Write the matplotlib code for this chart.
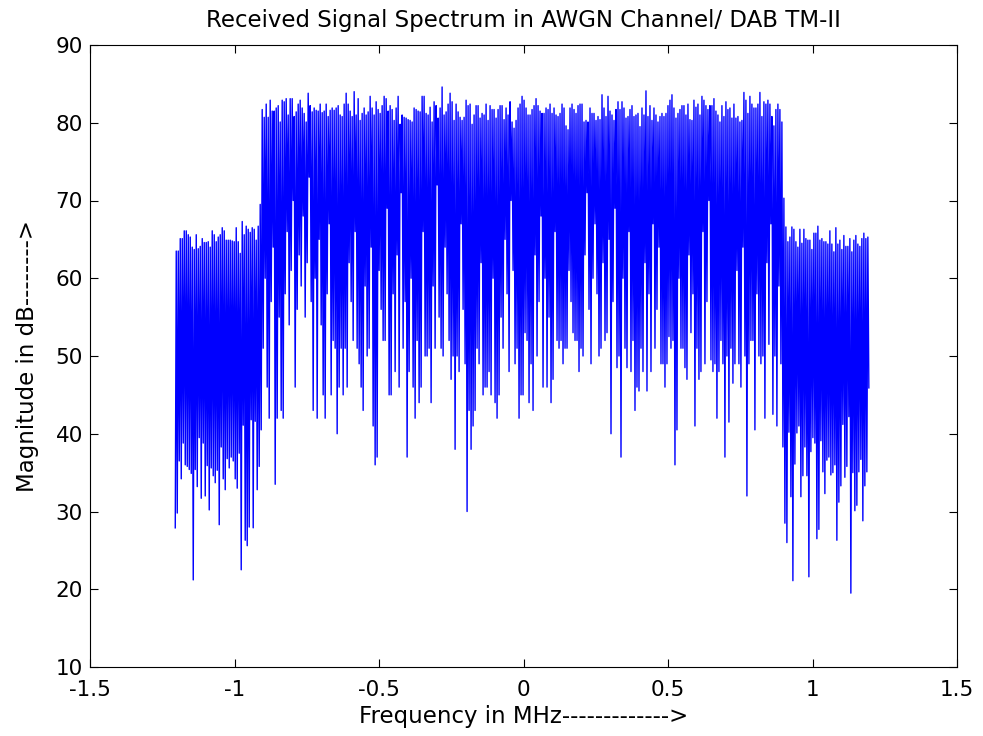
import numpy as np
import matplotlib
matplotlib.use("Agg")
import matplotlib.pyplot as plt
from matplotlib.ticker import FuncFormatter

# magnitudes in dB, peaks and troughs of each band
left_troughs = [27.9, 29.8, 36.5, 34.2, 38.8, 36.0, 35.8, 35.4, 34.9, 21.2,
                35.4, 33.2, 39.5, 31.7, 38.8, 32.0, 35.9, 30.2, 35.6, 34.6,
                33.7, 35.3, 28.3, 38.3, 34.2, 32.8, 36.8, 35.6, 37.0, 36.5,
                34.2, 33.0, 37.5, 22.5, 41.1, 26.3, 25.6, 28.0, 41.8, 27.9,
                41.6, 32.8, 35.8, 40.5]
left_peaks = [63.5, 63.5, 65.1, 65.1, 66.1, 66.1, 65.6, 65.3, 64.0, 63.7,
              65.6, 63.8, 64.1, 65.1, 64.6, 64.6, 64.7, 64.0, 66.1, 65.6,
              64.7, 65.3, 65.6, 66.5, 66.1, 64.9, 64.9, 64.9, 64.8, 64.7,
              66.5, 64.7, 63.2, 67.3, 65.6, 66.7, 66.3, 65.9, 66.5, 66.3,
              64.9, 66.7, 69.5]

mid_peaks = [81.7, 80.7, 82.4, 80.7, 82.9, 81.5, 81.5, 81.9, 82.2, 80.1,
             82.9, 82.7, 83.1, 81.0, 83.1, 83.1, 80.8, 81.4, 82.4, 82.9,
             81.9, 81.2, 80.1, 83.8, 82.2, 81.4, 81.9, 81.6, 81.5, 82.4,
             81.3, 81.5, 82.4, 80.8, 81.6, 81.9, 81.6, 81.9, 82.2, 81.0,
             80.8, 82.4, 83.8, 82.4, 81.5, 80.8, 84.0, 81.0, 83.1, 80.3,
             81.2, 81.9, 81.0, 81.4, 83.4, 81.9, 81.0, 82.7, 81.7, 81.2,
             82.2, 83.4, 83.1, 81.5, 82.2, 81.7, 80.3, 81.9, 83.4, 79.8,
             81.0, 80.7, 80.6, 80.4, 80.3, 80.1, 81.9, 81.7, 81.5, 81.4,
             83.4, 83.4, 81.2, 81.0, 82.0, 80.1, 82.7, 82.2, 80.6, 81.9,
             84.6, 81.0, 81.4, 82.4, 83.8, 82.7, 80.3, 82.4, 81.4, 80.7,
             80.3, 80.7, 82.9, 82.2, 82.4, 79.8, 81.0, 82.2, 82.2, 80.6,
             81.2, 81.0, 82.4, 80.3, 82.2, 81.7, 81.7, 80.6, 81.7, 82.2,
             82.2, 80.4, 81.9, 81.0, 82.7, 80.1, 79.3, 80.3, 81.9, 82.4,
             83.4, 82.9, 81.9, 81.0, 81.0, 81.7, 82.2, 83.1, 82.2, 81.5,
             81.2, 81.2, 81.9, 81.7, 82.4, 81.2, 81.9, 81.0, 80.8, 81.2,
             82.4, 81.9, 79.6, 79.1, 81.9, 82.4, 81.7, 81.2, 82.2, 82.4,
             82.4, 80.1, 80.3, 80.1, 81.9, 81.2, 81.2, 80.3, 80.8, 80.4,
             83.6, 81.9, 80.8, 83.4, 81.5, 81.0, 80.3, 81.7, 82.7, 81.7,
             82.7, 81.9, 80.6, 80.8, 81.7, 82.2, 80.8, 81.0, 81.2, 79.5,
             81.9, 81.0, 84.1, 80.8, 82.2, 80.3, 81.9, 81.0, 80.1, 80.8,
             81.2, 80.8, 81.2, 82.2, 82.9, 83.6, 81.9, 80.6, 81.2, 81.7,
             82.2, 82.2, 81.0, 82.4, 80.4, 80.3, 82.9, 82.0, 82.4, 81.0,
             83.4, 82.9, 82.2, 81.7, 82.2, 82.2, 83.1, 81.5, 81.0, 80.1,
             82.2, 80.8, 82.7, 81.7, 81.9, 80.6, 82.4, 80.6, 80.8, 80.1,
             80.3, 83.9, 82.9, 81.2, 83.4, 82.4, 81.9, 81.9, 82.4, 83.9,
             80.8, 82.7, 82.4, 82.9, 82.4, 80.8, 79.6, 81.7, 82.4, 81.7,
             80.1]
mid_troughs = [51, 60, 46, 42, 57, 64, 33.5, 42, 55, 43,
               42, 58, 66, 54, 61, 70, 46, 56, 63, 59,
               68, 55, 62, 73, 57, 43, 60, 42, 65, 54,
               45, 42, 58, 67, 45, 52, 51, 40, 46, 51,
               45, 51, 46, 62, 57, 52, 66, 51, 49, 46,
               43, 59, 50, 51, 64, 41, 36, 37, 61, 56,
               52, 52, 69, 45, 45, 58, 48, 63, 46, 71,
               51, 57, 37, 48, 60, 46, 42, 52, 44, 46,
               66, 50, 50, 51, 44, 59, 51, 72, 55, 51,
               50, 64, 58, 52, 47, 50, 38, 50, 48, 67,
               56, 49, 30, 43, 38, 41, 43, 51, 49, 62,
               45, 46, 46, 48, 45, 60, 44, 42, 45, 55,
               51, 65, 58, 48, 70, 61, 49, 51, 42, 45,
               45, 53, 52, 44, 49, 43, 63, 50, 57, 68,
               46, 60, 46, 55, 44, 47, 66, 52, 51, 52,
               49, 51, 51, 61, 57, 53, 52, 52, 48, 51,
               50, 63, 71, 56, 49, 60, 67, 58, 50, 51,
               62, 52, 53, 65, 40, 57, 69, 48.5, 50, 37,
               60, 51, 48.5, 66, 48, 52, 43, 46, 45.5, 51,
               48, 62, 45.5, 58, 48, 67, 51, 56, 64, 49,
               49, 46, 49, 52.5, 51, 52, 36, 40.5, 60, 51,
               51, 48.5, 47, 63, 53, 58, 41, 51, 47, 48,
               66, 49, 57, 70, 49.5, 48, 49, 42, 48, 52,
               49, 37, 50, 41.5, 51, 46.5, 49, 61, 49, 46,
               64, 50, 32, 49, 52, 52, 40.5, 58, 50, 49,
               50, 42, 62, 51.5, 67, 42.5, 50, 41, 59, 49]

right_troughs = [38.3, 28.5, 26.0, 40.2, 31.9, 21.1, 36.1, 40.1, 41.0, 31.9,
                 34.6, 38.3, 34.6, 21.6, 37.7, 39.5, 38.8, 26.5, 27.7, 39.1,
                 35.1, 32.3, 36.6, 37.0, 34.7, 35.0, 36.0, 26.3, 31.2, 33.3,
                 41.2, 34.4, 35.8, 42.2, 19.5, 35.0, 30.1, 30.8, 35.1, 36.7,
                 28.8, 33.3, 35.1, 45.9]
right_peaks = [70.3, 66.6, 64.7, 65.3, 66.6, 66.3, 64.7, 64.0, 66.3, 64.5,
               66.3, 65.1, 64.9, 64.9, 63.7, 65.8, 65.8, 66.7, 64.9, 65.1,
               64.7, 64.7, 64.4, 66.1, 64.4, 63.4, 66.5, 64.4, 64.9, 63.7,
               65.5, 64.1, 64.1, 65.1, 63.4, 64.9, 65.5, 64.4, 64.1, 65.1,
               65.8, 65.1, 65.3]


def interleave(first, second):
    # first, second, first, ... (first has one more item than second)
    out = []
    for i in range(len(second)):
        out.append(first[i])
        out.append(second[i])
    out.append(first[-1])
    return out


mag_db = (interleave(left_troughs, left_peaks)
          + interleave(mid_peaks, mid_troughs)
          + interleave(right_troughs, right_peaks))
freq = np.linspace(-1.205, 1.195, len(mag_db))

plt.rcParams['font.family'] = ['DejaVu Sans']
plt.rcParams['axes.unicode_minus'] = False

fig = plt.figure(figsize=(9.83, 7.36), dpi=100)
ax = fig.add_axes([90 / 983, 1 - 667 / 736, 867 / 983, 622 / 736])
ax.plot(freq, mag_db, color='#0000ff', linewidth=1.0)

ax.set_xlim(-1.5, 1.5)
ax.set_ylim(10, 90)
ax.set_xticks(np.arange(-1.5, 1.51, 0.5))
ax.set_yticks(np.arange(10, 91, 10))
ax.xaxis.set_major_formatter(FuncFormatter(lambda v, p: '%g' % v))
ax.tick_params(direction='in', top=True, right=True, length=6, width=0.8,
               labelsize=15.5)
ax.tick_params(axis='x', pad=9)
ax.tick_params(axis='y', pad=5)
for s in ax.spines.values():
    s.set_linewidth(0.8)

ax.set_title('Received Signal Spectrum in AWGN Channel/ DAB TM-II', fontsize=16.5, pad=13)
ax.set_xlabel('Frequency in MHz------------->', fontsize=16.5, labelpad=4)
ax.set_ylabel('Magnitude in dB-------->', fontsize=16.5, labelpad=12)

fig.savefig('out.png', dpi=100)
